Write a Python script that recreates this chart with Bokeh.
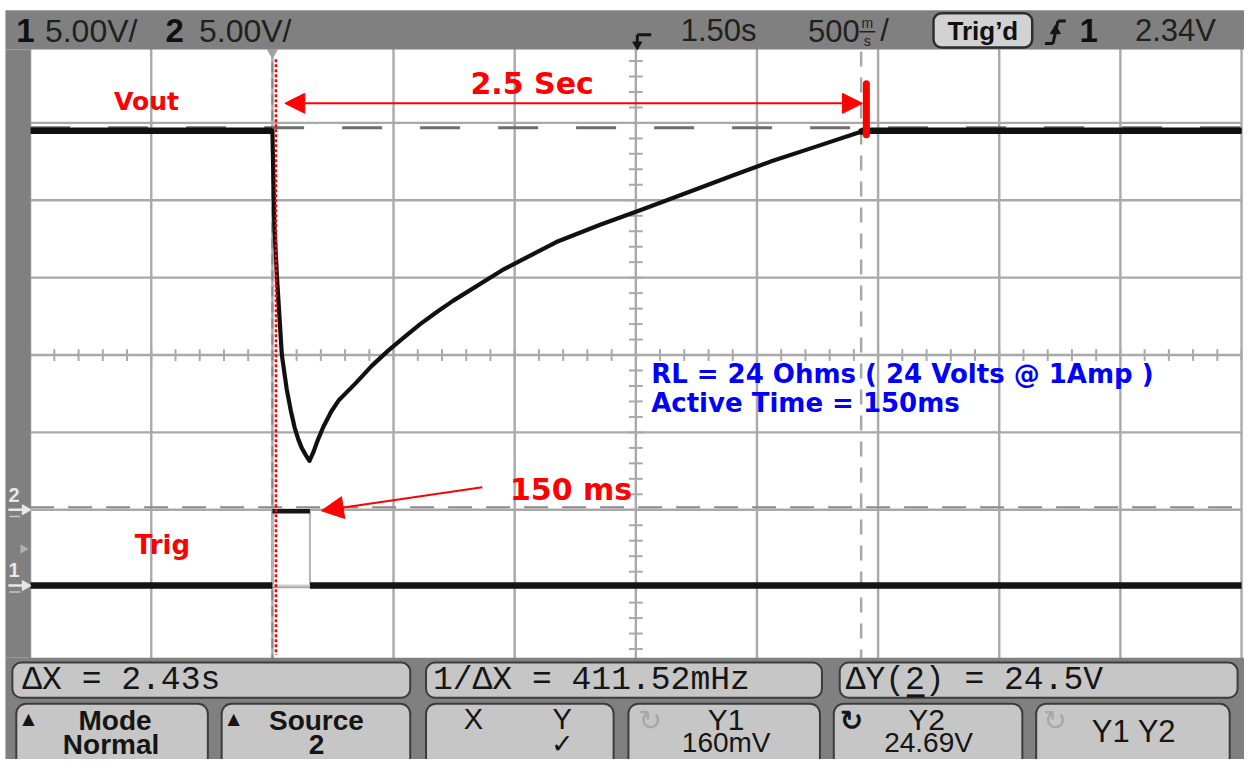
from bokeh.plotting import figure
from bokeh.models import Range1d, Label, Arrow, NormalHead, BoxAnnotation
from bokeh.embed import file_html
from bokeh.resources import INLINE

# ---------------- data ----------------
# Channel 2 (Vout), volts vs time (s), trigger at t = 0
vout_t = [-1.0, 0.0, 0.008, 0.019, 0.039, 0.059, 0.076, 0.092, 0.107, 0.121, 0.137, 0.153,
          0.17, 0.186, 0.21, 0.243, 0.275, 0.345, 0.41, 0.479, 0.548, 0.61, 0.68,
          0.745, 0.95, 1.172, 1.35, 1.526, 1.73, 1.9, 2.056, 2.25, 2.423, 2.44, 4.0]
vout_v = [24.5, 24.5, 18.4, 15.0, 10.0, 7.8, 6.4, 5.3, 4.55, 4.0, 3.55, 3.16,
          3.75, 4.45, 5.35, 6.35, 7.1, 8.2, 9.3, 10.3, 11.2, 12.0, 12.8,
          13.5, 15.5, 17.3, 18.4, 19.4, 20.6, 21.6, 22.5, 23.5, 24.4, 24.5, 24.5]
# Channel 1 (Trig) pulse, volts vs time (s)
trig_t = [-1.0, 0.0, 0.0, 0.155, 0.155, 4.0]
trig_v = [0.0, 0.0, 4.8, 4.8, 0.0, 0.0]
# cursors
cursor_x = [0.0, 2.43]      # s   (dX = 2.43 s)
cursor_y = [0.16, 24.69]    # V   (Y1 = 160 mV, Y2 = 24.69 V)
# graticule (500 ms/div, 1.50 s delay; 5 V/div)
grid_t = [-1.0, -0.5, 0.0, 0.5, 1.0, 1.5, 2.0, 2.5, 3.0, 3.5, 4.0]
grid_v = [-10.0, -5.0, 0.0, 5.0, 10.0, 15.0, 20.0, 25.0, 30.0]
CENTER_T, CENTER_V = 1.5, 10.0
CH1_OFFSET = -4.9           # ch1 ground position expressed in ch2 volts

# ---------------- layout calibration ----------------
W, H = 1244, 759
REF_W, REF_H = 1260, 775
GX0, GX1 = 30.0, 1257.0     # grid left/right (ref px)
GY0, GY1 = 46.0, 678.0      # grid top/bottom (ref px)
kx = (grid_t[-1] - grid_t[0]) / (GX1 - GX0)
ky = (grid_v[-1] - grid_v[0]) / (GY1 - GY0)
XS = grid_t[0] - GX0 * kx
XE = grid_t[-1] + (REF_W - GX1) * kx
YE = grid_v[-1] + GY0 * ky
YS = grid_v[0] - (REF_H - GY1) * ky


def X(px):
    return XS + px / REF_W * (XE - XS)


def Y(py):
    return YE - py / REF_H * (YE - YS)


p = figure(width=W, height=H, x_range=Range1d(XS, XE), y_range=Range1d(YS, YE),
           x_axis_type=None, y_axis_type=None, output_backend="svg",
           toolbar_location=None, min_border=0)
p.grid.visible = False
p.outline_line_color = None
p.background_fill_color = "white"
p.border_fill_color = "white"

GRID = "#a9a9a9"
# graticule
p.segment(x0=grid_t, y0=[grid_v[0]] * len(grid_t), x1=grid_t, y1=[grid_v[-1]] * len(grid_t),
          line_color=GRID, line_width=2.4)
p.segment(x0=[grid_t[0]] * len(grid_v), y0=grid_v, x1=[grid_t[-1]] * len(grid_v), y1=grid_v,
          line_color=GRID, line_width=2.4)
# minor ticks on center lines (1/5 div)
tick_t = [grid_t[0] + 0.1 * k for k in range(51)]
tick_v = [grid_v[0] + 1.0 * k for k in range(41)]
th = 6 * ky
tw = 7 * kx
p.segment(x0=tick_t, y0=[CENTER_V - th] * len(tick_t), x1=tick_t, y1=[CENTER_V + th] * len(tick_t),
          line_color=GRID, line_width=2)
p.segment(x0=[CENTER_T - tw] * len(tick_v), y0=tick_v, x1=[CENTER_T + tw] * len(tick_v), y1=tick_v,
          line_color=GRID, line_width=2)

# cursors
p.segment(x0=[cursor_x[0]], y0=[grid_v[0]], x1=[cursor_x[0]], y1=[grid_v[-1]],
          line_color="#8a8a8a", line_width=2, line_dash="10 6")
p.segment(x0=[cursor_x[1]], y0=[grid_v[0]], x1=[cursor_x[1]], y1=[grid_v[-1]],
          line_color="#a8a8a8", line_width=2.5, line_dash="15 11")
p.segment(x0=[grid_t[0]], y0=[cursor_y[0]], x1=[grid_t[-1]], y1=[cursor_y[0]],
          line_color="#8a8a8a", line_width=2, line_dash="24 14")
p.segment(x0=[grid_t[0]], y0=[cursor_y[1]], x1=[grid_t[-1]], y1=[cursor_y[1]],
          line_color="#6e6e6e", line_width=3, line_dash="40 38")

# channel 1 (Trig) trace
trig_y = [v + CH1_OFFSET for v in trig_v]
p.line(trig_t[1:5], trig_y[1:5], line_color="#b4b4b4", line_width=2)
p.line([trig_t[1], trig_t[4]], [trig_y[1], trig_y[4]], line_color="#d0d0d0", line_width=2)
p.line(trig_t[0:2], trig_y[0:2], line_color="#151515", line_width=6.5)
p.line(trig_t[4:6], trig_y[4:6], line_color="#151515", line_width=6.5)
p.line(trig_t[2:4], trig_y[2:4], line_color="#151515", line_width=4.5)

# channel 2 (Vout) trace
p.line(vout_t, vout_v, line_color="#111111", line_width=4.2, line_join="round")
p.line(vout_t[0:2], vout_v[0:2], line_color="#111111", line_width=6.5)
p.line(vout_t[-3:], vout_v[-3:], line_color="#111111", line_width=6.5)

RED = "#ff0000"
BLUE = "#0000ff"
RF = "DejaVu Sans"

# red dotted marker line and red bar at the cursor
p.segment(x0=[X(279)], y0=[Y(60)], x1=[X(279)], y1=[Y(668)], line_color=RED,
          line_width=2.6, line_dash="3 2")
p.segment(x0=[X(877)], y0=[Y(85)], x1=[X(877)], y1=[Y(137)], line_color=RED,
          line_width=7, line_cap="round")

# ---------------- scope frame (glyph layer, drawn over graticule) ----------------
FRAME = "#808080"
p.quad(left=[X(5), X(5), X(5)], right=[X(1260), X(30.5), X(1260)],
       top=[Y(10), Y(50), Y(671)], bottom=[Y(50), Y(671), Y(775)],
       fill_color=FRAME, line_color=None)
# trigger point marker at top of graticule
p.scatter(x=[cursor_x[0]], y=[Y(53)], marker="inverted_triangle", size=10, color="#a0a0a0")
# delay marker in header
p.segment(x0=[X(645), X(645)], y0=[Y(35), Y(35)], x1=[X(645), X(659)], y1=[Y(44), Y(35)],
          line_color="#151515", line_width=3)
p.scatter(x=[X(645)], y=[Y(45)], marker="inverted_triangle", size=9, color="#151515")
p.segment(x0=[X(870)], y0=[Y(32)], x1=[X(886)], y1=[Y(32)], line_color="#202020", line_width=1.5)
# trigger slope symbol
p.segment(x0=[X(1058), X(1066), X(1071)], y0=[Y(44), Y(44), Y(21)],
          x1=[X(1066), X(1071), X(1079)], y1=[Y(44), Y(21), Y(21)],
          line_color="#151515", line_width=3)
p.scatter(x=[X(1068.5)], y=[Y(31)], marker="triangle", size=10, color="#151515")
# channel ground markers on the left strip
MK = "#e8e8e8"
p.segment(x0=[X(8), X(8)], y0=[0.0, CH1_OFFSET], x1=[X(24), X(24)], y1=[0.0, CH1_OFFSET],
          line_color=MK, line_width=2.5)
p.scatter(x=[X(25), X(25)], y=[0.0, CH1_OFFSET], marker="triangle", angle=-1.5708,
          size=10, color=MK)
p.segment(x0=[X(9), X(9)], y0=[Y(527), Y(604)], x1=[X(20), X(20)], y1=[Y(527), Y(604)],
          line_color="#c8c8c8", line_width=1.5)
p.scatter(x=[X(23)], y=[Y(560)], marker="triangle", angle=-1.5708, size=8, color="#b0b0b0")


def lab(text, px, py, size, color="black", font="Liberation Sans", style="normal",
        align="left", baseline="middle"):
    p.add_layout(Label(x=X(px), y=Y(py), text=text, text_font=font,
                       text_font_size=f"{size}px", text_font_style=style,
                       text_color=color, text_align=align, text_baseline=baseline))


def box(l, t, r, b, fill, line=None, lw=0, radius=0):
    p.add_layout(BoxAnnotation(left=X(l), right=X(r), top=Y(t), bottom=Y(b),
                               fill_color=fill, fill_alpha=1.0,
                               line_color=line, line_alpha=1.0 if line else 0.0,
                               line_width=lw, border_radius=radius))


# ---------------- red / blue annotations ----------------
p.add_layout(Arrow(start=NormalHead(size=20, fill_color=RED, line_color=RED),
                   end=NormalHead(size=20, fill_color=RED, line_color=RED),
                   x_start=X(288), y_start=Y(105), x_end=X(873), y_end=Y(105),
                   line_color=RED, line_width=2))
p.add_layout(Arrow(end=NormalHead(size=22, fill_color=RED, line_color=RED),
                   x_start=X(488), y_start=Y(497), x_end=X(325), y_end=Y(521),
                   line_color=RED, line_width=2))
lab("Vout", 115, 103, 25, RED, RF, "bold")
lab("2.5 Sec", 476, 85, 30, RED, RF, "bold")
lab("150 ms", 516, 499, 30, RED, RF, "bold")
lab("Trig", 136, 556, 26, RED, RF, "bold")
lab("RL = 24 Ohms ( 24 Volts @ 1Amp )", 659, 381, 26, BLUE, RF, "bold")
lab("Active Time = 150ms", 659, 411, 26, BLUE, RF, "bold")

# ---------------- header texts ----------------
lab("1", 16, 31, 33, "#101010", "Liberation Sans", "bold")
lab("5.00V/", 45, 31, 32, "#202020")
lab("2", 167, 31, 33, "#101010", "Liberation Sans", "bold")
lab("5.00V/", 201, 31, 32, "#202020")
lab("1.50s", 689, 31, 31, "#202020")
lab("500", 818, 31, 31, "#202020")
lab("m", 878, 23, 14, "#202020", align="center")
lab("s", 878, 41, 14, "#202020", align="center")
lab("/", 891, 31, 31, "#202020")
box(945, 13, 1045, 48, "#d2d2d2", "#2e2e2e", 2.5, 8)
lab("Trig\u2019d", 995, 31, 26, "#101010", "Liberation Sans", "bold", align="center")
lab("1", 1093, 31, 33, "#101010", "Liberation Sans", "bold")
lab("2.34V", 1149, 31, 31, "#202020")

# channel numbers on the left strip
lab("2", 8, 505, 20, MK, "Liberation Sans", "bold")
lab("1", 8, 582, 20, MK, "Liberation Sans", "bold")

# ---------------- bottom soft-key panel ----------------
KEY = "#c6c6c6"
KL = "#3c3c3c"
for l, r in [(12, 415), (431, 832), (850, 1253)]:
    box(l, 676, r, 712, KEY, KL, 2, 9)
for l, r in [(16, 210), (224, 415), (431, 621), (636, 830), (844, 1035), (1049, 1245)]:
    box(l, 718, r, 790, KEY, KL, 2, 10)

MONO = "Liberation Mono"
lab("\u0394X = 2.43s", 22, 694, 33, "#151515", MONO)
lab("1/\u0394X = 411.52mHz", 438, 694, 33, "#151515", MONO)
lab("\u0394Y(2) = 24.5V", 856, 694, 33, "#151515", MONO)
p.add_layout(Arrow(end=None, x_start=X(918), y_start=Y(710), x_end=X(936), y_end=Y(710),
                   line_color="#151515", line_width=3))

lab("\u25b2", 22, 733, 16, "#151515", "DejaVu Sans")
lab("Mode", 116, 735, 28, "#151515", "Liberation Sans", "bold", align="center")
lab("Normal", 112, 760, 28, "#151515", "Liberation Sans", "bold", align="center")
lab("\u25b2", 230, 733, 16, "#151515", "DejaVu Sans")
lab("Source", 320, 735, 28, "#151515", "Liberation Sans", "bold", align="center")
lab("2", 320, 760, 28, "#151515", "Liberation Sans", "bold", align="center")
lab("X", 479, 734, 29, "#151515", align="center")
lab("Y", 569, 734, 29, "#151515", align="center")
lab("\u2713", 569, 759, 27, "#151515", "DejaVu Sans", align="center")
lab("\u21bb", 658, 735, 28, "#a8a8a8", "DejaVu Sans", align="center")
lab("Y1", 735, 734, 30, "#151515", align="center")
lab("160mV", 735, 758, 28, "#151515", align="center")
lab("\u21bb", 862, 735, 28, "#151515", "DejaVu Sans", "bold", align="center")
lab("Y2", 938, 734, 30, "#151515", align="center")
lab("24.69V", 940, 758, 28, "#151515", align="center")
lab("\u21bb", 1068, 735, 28, "#a8a8a8", "DejaVu Sans", align="center")
lab("Y1 Y2", 1148, 746, 31, "#151515", align="center")

open("out.html", "w").write(file_html(p, INLINE))
